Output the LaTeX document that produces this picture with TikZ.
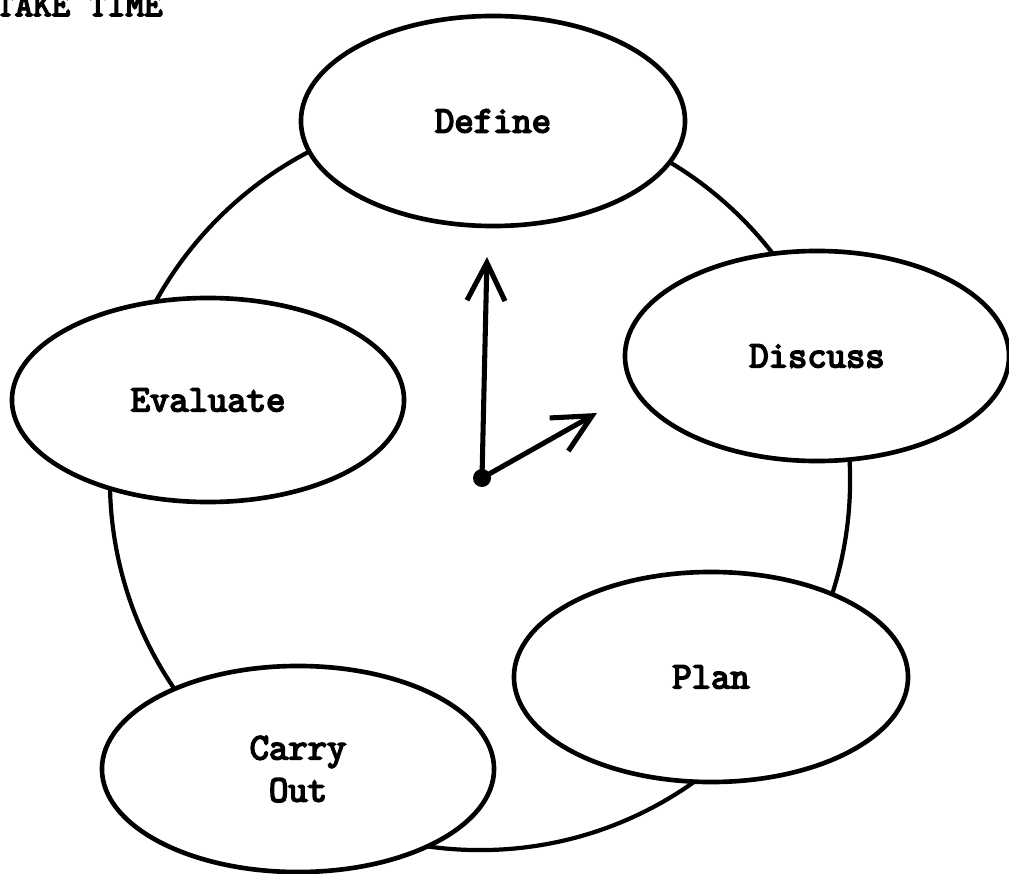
\documentclass[tikz,border=0pt]{standalone}
\usepackage{fontspec}
\usetikzlibrary{arrows.meta,shapes.geometric}
% heavy typewriter face for all the labels
\newfontfamily\typewriter{Latin Modern Mono}[FakeBold=4.5]
\begin{document}
\begin{tikzpicture}[x=0.025cm,y=-0.025cm,
  label font/.style={font=\fontsize{26.7}{30}\selectfont\typewriter\bfseries},
  stage/.style={ellipse, draw=black, fill=white, line width=3.3pt,
    label font, align=center, inner sep=0pt},
  ring/.style={circle, draw=black, line width=3pt, inner sep=0pt,
    minimum size=18.5cm},
  hub/.style={circle, fill=black, inner sep=0pt, minimum size=0.45cm},
  hand/.style={line width=3.6pt, line cap=round,
    -{Straight Barb[length=0.95cm, width=0.95cm, line width=3.6pt]}}
]
\useasboundingbox (0,0) rectangle (1009,874);
\clip (0,0) rectangle (1009,874);

% heading, partly cut by the top edge
\node[anchor=base west, font=\fontsize{25.5}{30}\selectfont\typewriter\bfseries,
  inner sep=0pt] (title) at (-4,16) {TAKE TIME};

% the cycle joining the stages
\node[ring] (cycle) at (480,480) {};

% stages
\node[stage, minimum width=9.6cm,  minimum height=5.25cm] (define)   at (493,121) {Define};
\node[stage, minimum width=9.6cm,  minimum height=5.25cm] (discuss)  at (817,356) {Discuss};
\node[stage, minimum width=9.85cm, minimum height=5.25cm] (plan)     at (711,677) {Plan};
\node[stage, minimum width=9.8cm,  minimum height=5.15cm] (carryout) at (298,769) {Carry\\Out};
\node[stage, minimum width=9.8cm,  minimum height=5.1cm]  (evaluate) at (208,400) {Evaluate};

% clock hands
\node[hub] (centre) at (482,478) {};
\coordinate (hourtip) at (597,413);
\coordinate (minutetip) at (487,257);
\draw[hand] (centre.center) -- (minutetip);
\draw[hand] (centre.center) -- (hourtip);
\end{tikzpicture}
\end{document}
